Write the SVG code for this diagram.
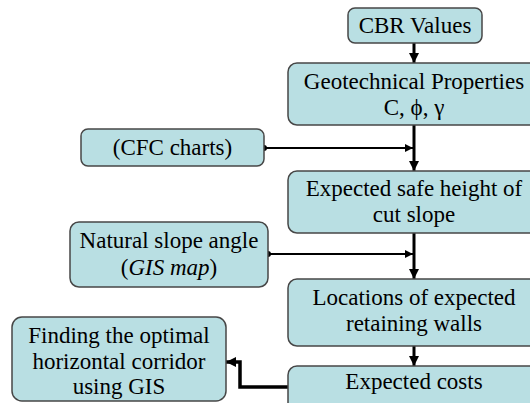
<svg xmlns="http://www.w3.org/2000/svg" width="530" height="403" viewBox="0 0 530 403">
<style>
.box{fill:#b9dfe3;stroke:#474747;stroke-width:1.5}
.t{font-family:"Liberation Serif","Times New Roman",serif;font-size:23px;fill:#000;text-anchor:middle}
.c{fill:none;stroke:#000}
.v{stroke-width:3}
.h{stroke-width:2}
</style>
<defs>
<marker id="arr" viewBox="0 0 10 10" refX="10" refY="5" markerWidth="10" markerHeight="10" markerUnits="userSpaceOnUse" orient="auto"><path d="M0,0 L10,5 L0,10 z" fill="#000"/></marker>
<marker id="arrs" viewBox="0 0 10 10" refX="10" refY="5" markerWidth="8" markerHeight="8" markerUnits="userSpaceOnUse" orient="auto"><path d="M0,0 L10,5 L0,10 z" fill="#000"/></marker>
<marker id="dot" viewBox="0 0 10 10" refX="5" refY="5" markerWidth="6" markerHeight="6" markerUnits="userSpaceOnUse"><circle cx="5" cy="5" r="5" fill="#000"/></marker>
</defs>
<g id="connectors">
<line class="c v" x1="414" y1="43" x2="414" y2="63" marker-end="url(#arr)"/>
<line class="c v" x1="414" y1="125" x2="414" y2="171" marker-end="url(#arr)"/>
<line class="c h" x1="264" y1="148" x2="413" y2="148" marker-start="url(#dot)" marker-end="url(#arrs)"/>
<line class="c v" x1="414" y1="233" x2="414" y2="279" marker-end="url(#arr)"/>
<line class="c h" x1="268" y1="254" x2="413" y2="254" marker-start="url(#dot)" marker-end="url(#arrs)"/>
<line class="c v" x1="414" y1="346" x2="414" y2="366" marker-end="url(#arr)"/>
<polyline class="c" stroke-width="3.5" points="288,387 240,387 240,362 226,362" marker-end="url(#arr)"/>
</g>
<g id="cbr">
<rect class="box" x="348" y="8" width="134" height="35" rx="7"/>
<text class="t" x="415" y="33">CBR Values</text>
</g>
<g id="geotech">
<rect class="box" x="288" y="63" width="254" height="62" rx="9"/>
<text class="t" x="414" y="89">Geotechnical Properties</text>
<text class="t" x="414" y="115">C, ϕ, γ</text>
</g>
<g id="cfc">
<rect class="box" x="81" y="129" width="183" height="37" rx="7"/>
<text class="t" x="172.5" y="155">(CFC charts)</text>
</g>
<g id="safe">
<rect class="box" x="288" y="171" width="254" height="62" rx="9"/>
<text class="t" x="414" y="196">Expected safe height of</text>
<text class="t" x="414" y="222">cut slope</text>
</g>
<g id="natural">
<rect class="box" x="70" y="222" width="198" height="65" rx="9"/>
<text class="t" x="169" y="248">Natural slope angle</text>
<text class="t" x="169" y="275">(<tspan font-style="italic">GIS map</tspan>)</text>
</g>
<g id="locations">
<rect class="box" x="288" y="279" width="254" height="67" rx="9"/>
<text class="t" x="414" y="305">Locations of expected</text>
<text class="t" x="414" y="331">retaining walls</text>
</g>
<g id="costs">
<rect class="box" x="288" y="366" width="254" height="60" rx="9"/>
<text class="t" x="414" y="389">Expected costs</text>
</g>
<g id="finding">
<rect class="box" x="12" y="317" width="214" height="84" rx="10"/>
<text class="t" x="119" y="343">Finding the optimal</text>
<text class="t" x="119" y="369">horizontal corridor</text>
<text class="t" x="119" y="394">using GIS</text>
</g>
</svg>
